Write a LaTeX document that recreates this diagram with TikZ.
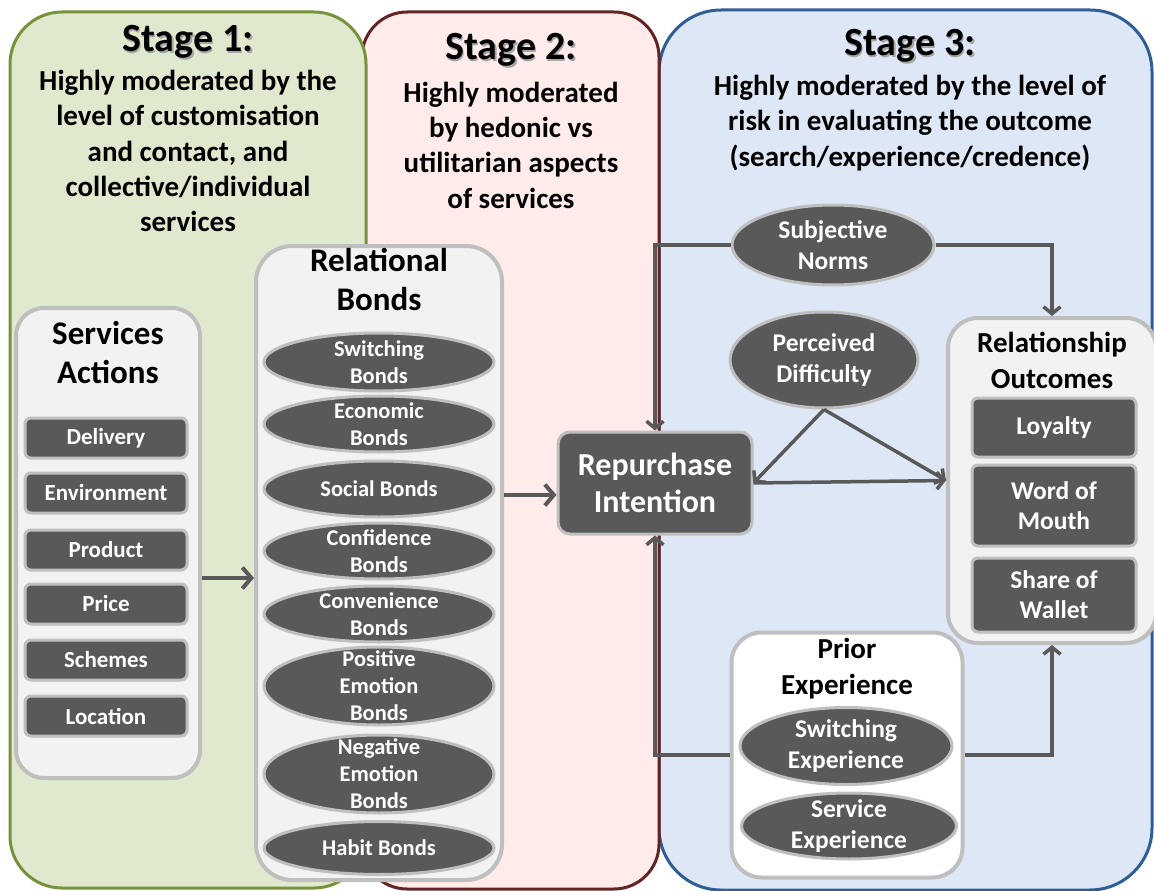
\documentclass[tikz,border=0pt]{standalone}
\usepackage{fontspec}
\setmainfont{Carlito}
\usetikzlibrary{arrows.meta,shapes.geometric,shadows}

\definecolor{sonefill}{HTML}{E0E9CD}
\definecolor{soneline}{HTML}{76923C}
\definecolor{stwofill}{HTML}{FEEBEA}
\definecolor{stwoline}{HTML}{632523}
\definecolor{sthreefill}{HTML}{DEE7F5}
\definecolor{sthreeline}{HTML}{2F5D95}
\definecolor{boxfill}{HTML}{F2F2F2}
\definecolor{boxline}{HTML}{BFBFBF}
\definecolor{darkfill}{HTML}{595959}
\definecolor{conn}{HTML}{595959}

\newcommand{\fsz}[2]{\fontsize{#1}{#2}\selectfont\bfseries}

\tikzset{
  panel/.style={draw, line width=3pt, inner sep=0pt},
  container/.style={draw=boxline, fill=boxfill, line width=4pt, inner sep=0pt,
    drop shadow={shadow xshift=1.5pt, shadow yshift=-1.5pt, opacity=0.25}},
  title/.style={align=center, text=black},
  headshadow/.style={align=center, text=black!35},
  darkbox/.style={draw=boxline, fill=darkfill, line width=3pt, rounded corners=6pt,
    inner sep=0pt, text=white, align=center,
    drop shadow={shadow xshift=1pt, shadow yshift=-1pt, opacity=0.3}},
  darkoval/.style={ellipse, draw=boxline, fill=darkfill, line width=3pt, inner sep=0pt,
    drop shadow={shadow xshift=1pt, shadow yshift=-1pt, opacity=0.3}},
  ovaltext/.style={text=white, align=center, font=\fsz{22.5}{27}},
  arr/.style={draw=conn, line width=3.5pt, -{Straight Barb[length=7pt,width=17pt]}},
  bigarr/.style={draw=conn, line width=4pt, -{Straight Barb[length=9pt,width=21pt]}}
}

\begin{document}
\begin{tikzpicture}[x=1pt,y=-1pt]
\useasboundingbox (0,0) rectangle (1154,891);

% stage panels
\node[panel, draw=sthreeline, fill=sthreefill, rounded corners=62pt,
  minimum width=493pt, minimum height=880pt] (s3) at (905.5,450) {};
\node[panel, draw=stwoline, fill=stwofill, rounded corners=45pt,
  minimum width=297pt, minimum height=877pt] (s2) at (510.5,450.5) {};
\node[panel, draw=soneline, fill=sonefill, rounded corners=52pt,
  minimum width=356pt, minimum height=876pt] (s1) at (188,450) {};

% stage headings
\node[headshadow, font=\fsz{40}{44}] (h1s) at (189.5,43.5) {Stage 1:};
\node[title, font=\fsz{40}{44}] (h1) at (188,42) {Stage 1:};
\node[title, font=\fsz{29}{35.3}] (d1) at (188,151) {Highly moderated by the\\level of customisation\\and contact, and\\collective/individual\\services};
\node[headshadow, font=\fsz{40}{44}] (h2s) at (512.5,51.5) {Stage 2:};
\node[title, font=\fsz{40}{44}] (h2) at (511,50) {Stage 2:};
\node[title, font=\fsz{29}{35.3}] (d2) at (511,145) {Highly moderated\\by hedonic vs\\utilitarian aspects\\of services};
\node[headshadow, font=\fsz{40}{44}] (h3s) at (911.5,47.5) {Stage 3:};
\node[title, font=\fsz{40}{44}] (h3) at (910,46) {Stage 3:};
\node[title, font=\fsz{29}{35.3}] (d3) at (910,123) {Highly moderated by the level of\\risk in evaluating the outcome\\(search/experience/credence)};

% services actions
\node[container, rounded corners=28pt, minimum width=184pt, minimum height=470pt] (sa) at (108,543) {};
\node[title, font=\fsz{33}{39}] (sat) at (108,353) {Services\\Actions};
\foreach \nm/\yy/\txt in {del/438/Delivery, env/493/Environment, prd/550/Product,
    prc/604/Price, sch/660/Schemes, loc/716/Location}
  \node[darkbox, font=\fsz{23}{26}, minimum width=162pt, minimum height=40pt] (\nm) at (106,\yy) {\txt};

% relational bonds
\node[container, rounded corners=36pt, minimum width=246pt, minimum height=634pt] (rb) at (379,563) {};
\node[title, font=\fsz{33}{39}] (rbt) at (379,280) {Relational\\Bonds};
\foreach \nm/\yy/\hh/\txt in {swb/362/58/{Switching\\Bonds}, ecb/424/56/{Economic\\Bonds},
    sob/489/56/{Social Bonds}, cfb/551/56/{Confidence\\Bonds}, cvb/614/56/{Convenience\\Bonds},
    peb/686/78/{Positive\\Emotion\\Bonds}, neb/774/78/{Negative\\Emotion\\Bonds}, hab/848/53/{Habit Bonds}}
  \node[darkoval, minimum width=230pt, minimum height=\hh pt,
    label={[ovaltext]center:\txt}] (\nm) at (379,\yy) {};

% repurchase intention
\node[darkbox, rounded corners=12pt, font=\fsz{32}{37}, minimum width=194pt, minimum height=102pt] (ri) at (655,483) {Repurchase\\Intention};

% subjective norms and perceived difficulty
\node[darkoval, minimum width=202pt, minimum height=80pt,
  label={[ovaltext, font=\fsz{25.5}{31}]center:{Subjective\\Norms}}] (sn) at (833,245) {};
\node[darkoval, minimum width=188pt, minimum height=96pt,
  label={[ovaltext, font=\fsz{25.5}{31}]center:{Perceived\\Difficulty}}] (pd) at (824,360) {};

% relationship outcomes
\node[container, rounded corners=30pt, minimum width=208pt, minimum height=325pt] (ro) at (1052,480.5) {};
\node[title, font=\fsz{29}{36}] (rot) at (1052,360) {Relationship\\Outcomes};
\node[darkbox, font=\fsz{25.5}{30}, minimum width=164pt, minimum height=59pt] (loy) at (1054,427.5) {Loyalty};
\node[darkbox, font=\fsz{25.5}{30}, minimum width=164pt, minimum height=81pt] (wom) at (1054,505.5) {Word of\\Mouth};
\node[darkbox, font=\fsz{25.5}{30}, minimum width=164pt, minimum height=74pt] (sow) at (1054,595) {Share of\\Wallet};

% prior experience
\node[container, fill=white, rounded corners=30pt, minimum width=231pt, minimum height=245pt] (pe) at (847,755) {};
\node[title, font=\fsz{29}{36}] (pet) at (847,669) {Prior\\Experience};
\node[darkoval, minimum width=212pt, minimum height=77pt,
  label={[ovaltext, font=\fsz{25.5}{31}]center:{Switching\\Experience}}] (swe) at (846,746) {};
\node[darkoval, minimum width=215pt, minimum height=66pt,
  label={[ovaltext, font=\fsz{25.5}{31}]center:{Service\\Experience}}] (sve) at (849,826) {};

% connectors
\draw[bigarr] (sa.east |- 0,578) -- (rb.west |- 0,578);
\draw[bigarr] (rb.east |- 0,495) -- (ri.west |- 0,495);
\draw[arr] (sn.west) -| (ri.north);
\draw[arr] (sn.east) -| (ro.north);
\draw[arr] (pd.south) -- (ri.east);
\draw[arr] (pd.south) -- (ro.west);
\draw[arr] (ri.east) -- (ro.west);
\draw[arr] (pe.west) -| (ri.south);
\draw[arr] (pe.east) -| (ro.south);
\end{tikzpicture}
\end{document}
